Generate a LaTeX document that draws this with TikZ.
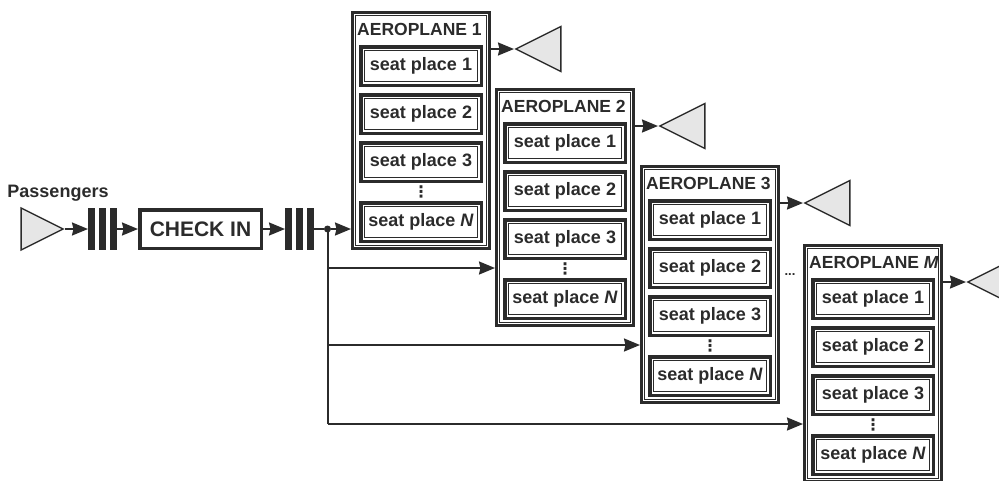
\documentclass[tikz,border=0pt]{standalone}
\usepackage{fontspec}
\setmainfont{Liberation Sans}
\newfontfamily\symfont{DejaVu Sans}
\usetikzlibrary{positioning,arrows.meta,shapes.geometric,calc}
\definecolor{ink}{HTML}{2B2B2B}
\definecolor{haze}{HTML}{E6E6E6}
\tikzset{gate/.style={draw=ink,line width=3.5pt,text=ink,font=\fontsize{21}{24}\selectfont\bfseries,minimum width=121.5pt,minimum height=38.5pt,inner sep=0pt},
         plane/.style={draw=ink,line width=2.6pt,minimum width=137.4pt,minimum height=236.4pt,inner sep=0pt,anchor=north west},
         seat/.style={draw=ink,line width=3.5pt,text=ink,font=\fontsize{18}{20}\selectfont\bfseries,minimum width=120.5pt,minimum height=38.5pt,inner sep=0pt,anchor=north},
         rim/.style={ink,line width=1.3pt},
         ptitle/.style={text=ink,font=\fontsize{17.5}{20}\selectfont\bfseries,inner sep=0pt,anchor=west},
         lbl/.style={text=ink,font=\fontsize{18}{20}\selectfont\bfseries,inner sep=0pt},
         dots/.style={text=ink,font=\fontsize{13}{13}\selectfont\bfseries,inner sep=0pt},
         vdots/.style={text=ink,font=\fontsize{16}{16}\selectfont\symfont\bfseries,inner sep=0pt},
         bar/.style={fill=ink,minimum width=7pt,minimum height=42pt,inner sep=0pt,outer sep=0pt},
         entry/.style={isosceles triangle,isosceles triangle stretches,draw=ink,fill=haze,line width=1.4pt,minimum width=42pt,minimum height=42pt,inner sep=0pt},
         exit/.style={entry,shape border rotate=180,minimum width=45pt,minimum height=45pt},
         fork/.style={circle,fill=ink,minimum size=7pt,inner sep=0pt,outer sep=0pt},
         arr/.style={-{Stealth[length=16pt,width=13pt,inset=1.5pt]},ink,line width=2pt},
         wire/.style={ink,line width=2pt}}
\begin{document}
\begin{tikzpicture}[x=1pt,y=-1pt]
 \useasboundingbox (0,0) rectangle (999,480);
 % passengers and check in
 \node[entry,anchor=apex] (pass) at (65,229) {};
 \node[lbl] (plab) at (58,193) {Passengers};
 \node[bar,right=23pt of pass.apex] (q1) {};
 \node[bar,right=4pt of q1] (q2) {};
 \node[bar,right=4pt of q2] (q3) {};
 \node[gate,right=21pt of q3] (chk) {CHECK IN};
 \node[bar,right=22pt of chk] (q4) {};
 \node[bar,right=4pt of q4] (q5) {};
 \node[bar,right=4pt of q5] (q6) {};
 \node[fork,right=10pt of q6] (fork) {};
 % aeroplanes
 \foreach \k/\x/\y/\nm in {1/351/11/1,2/495/88/2,3/640/165/3,4/803/244/\textit{M}}{
  \node[plane] (p\k) at (\x,\y) {};
  \draw[rim] ([shift={(4.4,4.4)}]p\k.north west) rectangle ([shift={(-4.4,-4.4)}]p\k.south east);
  \node[ptitle] (t\k) at ([shift={(6,18)}]p\k.north west) {AEROPLANE \nm};
  \foreach \j/\dy/\sn in {1/34/1,2/82/2,3/130/3,4/190/\textit{N}}{
   \node[seat] (s\k\j) at ([shift={(0,\dy)}]p\k.north) {seat place \sn};
   \draw[rim] ([shift={(5.3,5.3)}]s\k\j.north west) rectangle ([shift={(-5.3,-5.3)}]s\k\j.south east);
  }
  \node[vdots] (v\k) at ($(s\k3.south)!0.5!(s\k4.north)$) {⋮};
  \node[exit,anchor=apex] (o\k) at ([shift={(23,38)}]p\k.north east) {};
  \draw[arr] (p\k.east |- o\k.apex) -- (o\k.apex);
  \coordinate (in\k) at ([shift={(0,180)}]p\k.north west);
 }
 \node[dots] (gap) at (790,275) {...};
 % connectors
 \draw[arr] (pass.apex) -- (q1);
 \draw[arr] (q3) -- (chk);
 \draw[arr] (chk) -- (q4);
 \draw[wire] (q6) -- (fork);
 \draw[arr] (fork) -- (fork -| p1.west);
 \draw[wire] (fork.center) -- (fork |- in4);
 \foreach \k in {2,3,4} \draw[arr] (fork |- in\k) -- (in\k);
\end{tikzpicture}
\end{document}
